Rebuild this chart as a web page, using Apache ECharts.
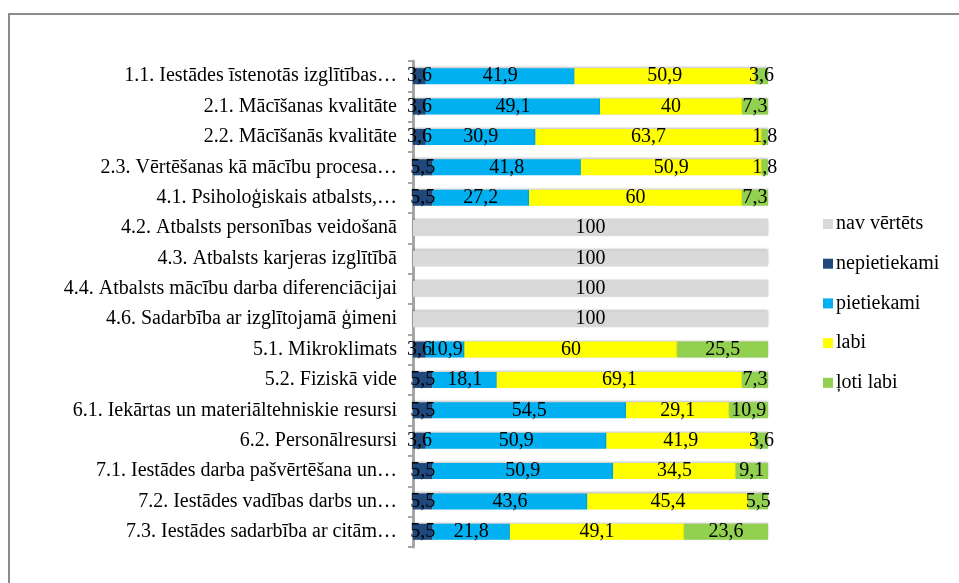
<!DOCTYPE html>
<html>
<head>
<meta charset="utf-8">
<script src="https://cdn.jsdelivr.net/npm/echarts@6/dist/echarts.min.js"></script>
<style>
  html, body { margin: 0; padding: 0; background: #fff; }
  #chart { width: 959px; height: 583px; }
  .frame {
    position: absolute; left: 8px; top: 13px; width: 960px; height: 600px;
    border-left: 2px solid #8c8c8c; border-top: 2px solid #8c8c8c;
    pointer-events: none;
  }
</style>
</head>
<body>
<div id="chart"></div>
<div class="frame"></div>
<script>
const categories = [
  '1.1. Iestādes īstenotās izglītības…',
  '2.1. Mācīšanas kvalitāte',
  '2.2. Mācīšanās kvalitāte',
  '2.3. Vērtēšanas kā mācību procesa…',
  '4.1. Psiholoģiskais atbalsts,…',
  '4.2. Atbalsts personības veidošanā',
  '4.3. Atbalsts karjeras izglītībā',
  '4.4. Atbalsts mācību darba diferenciācijai',
  '4.6. Sadarbība ar izglītojamā ģimeni',
  '5.1. Mikroklimats',
  '5.2. Fiziskā vide',
  '6.1. Iekārtas un materiāltehniskie resursi',
  '6.2. Personālresursi',
  '7.1. Iestādes darba pašvērtēšana un…',
  '7.2. Iestādes vadības darbs un…',
  '7.3. Iestādes sadarbība ar citām…'
]

const navVertets   = [null, null, null, null, null, 100, 100, 100, 100, null, null, null, null, null, null, null]
const nepietiekami = [3.6, 3.6, 3.6, 5.5, 5.5, null, null, null, null, 3.6, 5.5, 5.5, 3.6, 5.5, 5.5, 5.5]
const pietiekami   = [41.9, 49.1, 30.9, 41.8, 27.2, null, null, null, null, 10.9, 18.1, 54.5, 50.9, 50.9, 43.6, 21.8]
const labi         = [50.9, 40, 63.7, 50.9, 60, null, null, null, null, 60, 69.1, 29.1, 41.9, 34.5, 45.4, 49.1]
const lotiLabi     = [3.6, 7.3, 1.8, 1.8, 7.3, null, null, null, null, 25.5, 7.3, 10.9, 3.6, 9.1, 5.5, 23.6]

const FONT = '"Liberation Serif", "Times New Roman", serif'

function bar(name, data, color) {
  return {
    name,
    type: 'bar',
    stack: 'total',
    barWidth: 16,
    data,
    itemStyle: {
      color,
      shadowColor: 'rgba(0,0,0,0.25)',
      shadowBlur: 2,
      shadowOffsetY: -1
    },
    label: {
      show: true,
      position: 'inside',
      color: '#000',
      fontFamily: FONT,
      fontSize: 20,
      formatter: p => String(p.value).replace('.', ',')
    }
  }
}

const chart = echarts.init(document.getElementById('chart'))
chart.setOption({
  animation: false,
  textStyle: { fontFamily: FONT },
  grid: { left: 413, right: 191, top: 61, bottom: 36 },
  legend: {
    orient: 'vertical',
    left: 818,
    top: 209,
    itemWidth: 10,
    itemHeight: 10,
    itemGap: 19.7,
    icon: 'rect',
    textStyle: { fontFamily: FONT, fontSize: 20, color: '#000', lineHeight: 20, padding: [0, 0, 0, -2] },
    data: ['nav vērtēts', 'nepietiekami', 'pietiekami', 'labi', 'ļoti labi']
  },
  xAxis: {
    type: 'value',
    min: 0,
    max: 100,
    show: false
  },
  yAxis: {
    type: 'category',
    inverse: true,
    data: categories,
    axisLine: { lineStyle: { color: '#a6a6a6', width: 3 } },
    axisTick: { show: true, length: 5, lineStyle: { color: '#a6a6a6', width: 2 } },
    axisLabel: { color: '#000', fontFamily: FONT, fontSize: 20, margin: 16 }
  },
  series: [
    bar('nav vērtēts', navVertets, '#d9d9d9'),
    bar('nepietiekami', nepietiekami, '#1f497d'),
    bar('pietiekami', pietiekami, '#00b0f0'),
    bar('labi', labi, '#ffff00'),
    bar('ļoti labi', lotiLabi, '#92d050')
  ]
})
</script>
</body>
</html>
